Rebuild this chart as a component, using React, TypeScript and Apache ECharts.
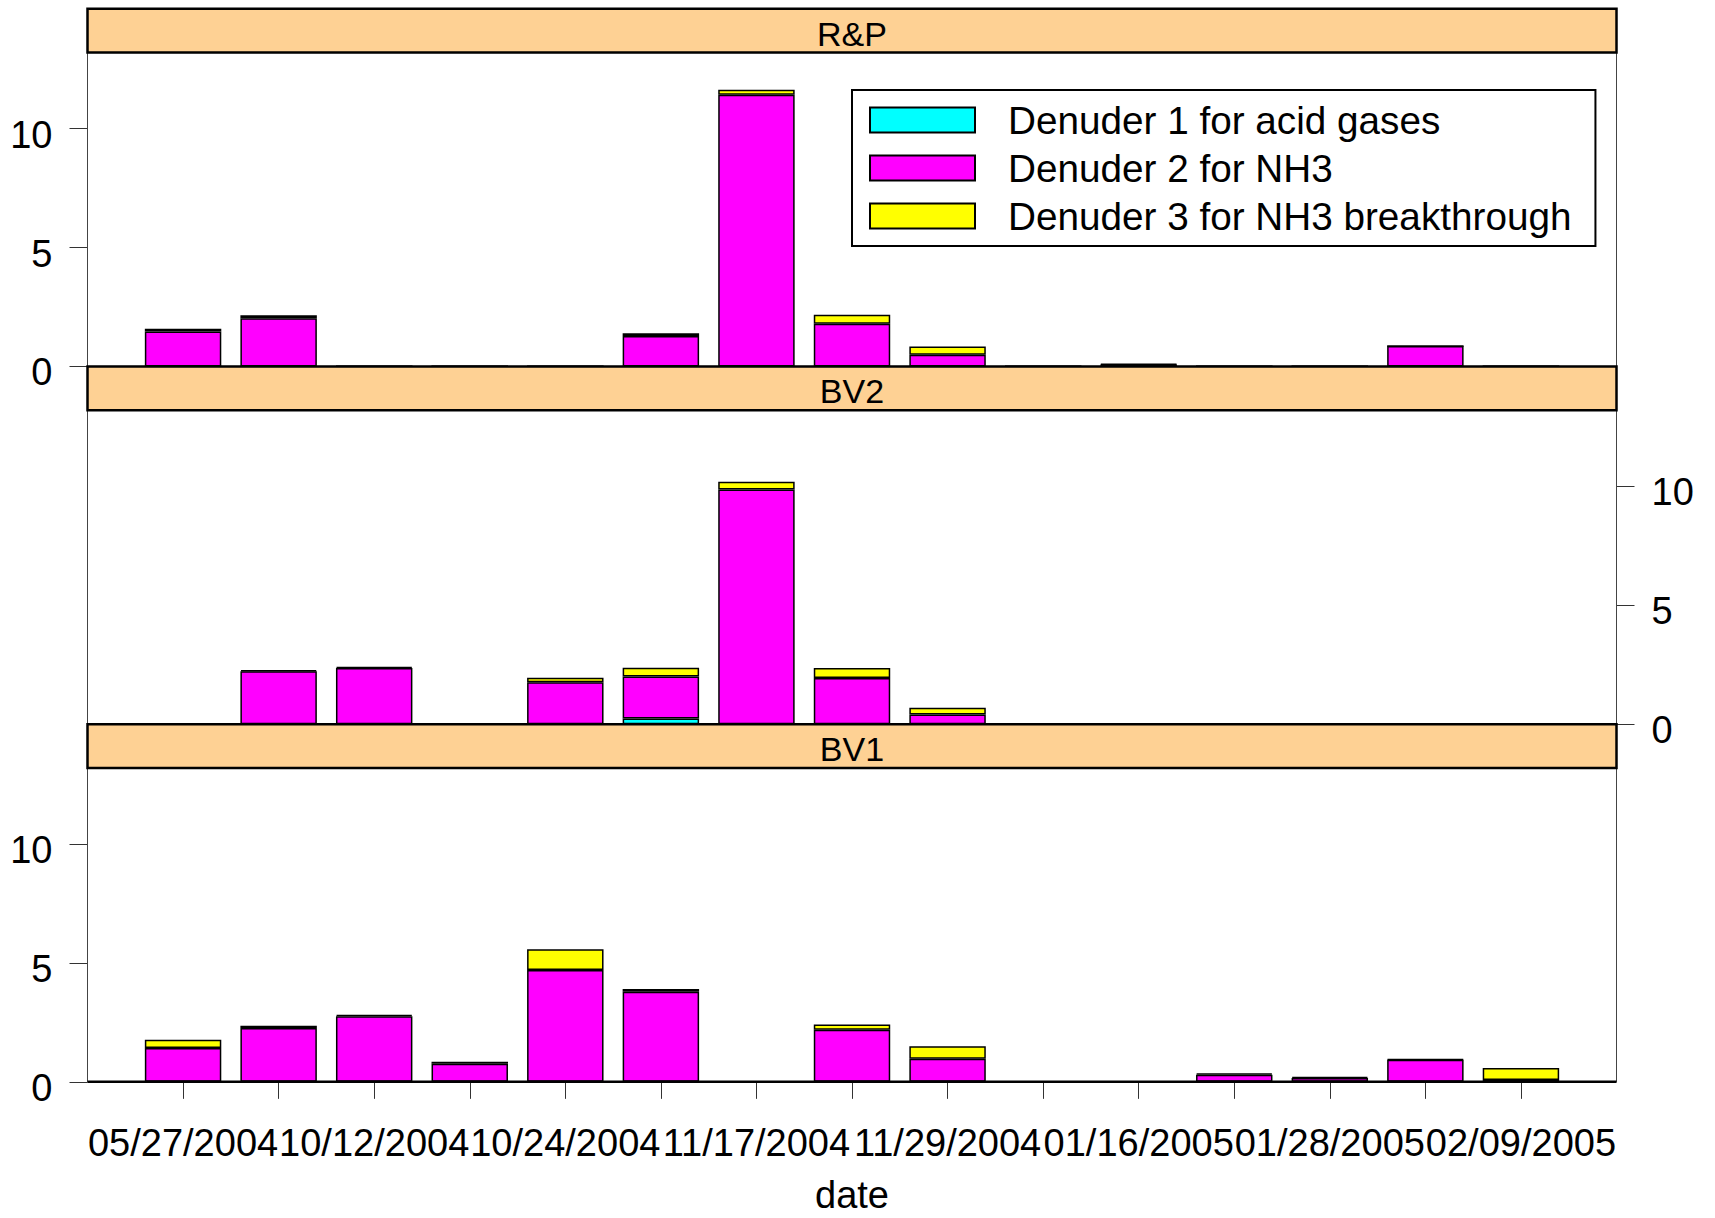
import React, { useEffect, useRef } from "react";
import * as echarts from "echarts";

// Sampling dates (only every other date is printed on the axis)
const dateLabels = [
  "05/27/2004", "", "10/12/2004", "", "10/24/2004", "", "11/17/2004", "",
  "11/29/2004", "", "01/16/2005", "", "01/28/2005", "", "02/09/2005",
];

const seriesNames = [
  "Denuder 1 for acid gases",
  "Denuder 2 for NH3",
  "Denuder 3 for NH3 breakthrough",
];
const seriesColors = ["#00FFFF", "#FF00FF", "#FFFF00"];

// Panels, top to bottom
const panelNames = ["R&P", "BV2", "BV1"];

// R&P site
const rpDenuder1 = [0, 0, 0, 0, 0, 0, 0, 0, 0, 0, 0, 0, 0, 0, 0];
const rpDenuder2 = [1.47, 2.03, 0, 0, 0, 1.28, 11.43, 1.8, 0.49, 0, 0.08, 0, 0, 0.86, 0];
const rpDenuder3 = [0.12, 0.12, 0, 0, 0, 0.12, 0.21, 0.37, 0.35, 0, 0.03, 0, 0, 0, 0];

// BV2 site
const bv2Denuder1 = [0, 0, 0, 0, 0, 0.24, 0, 0, 0, 0, 0, 0, 0, 0, 0];
const bv2Denuder2 = [0, 2.22, 2.36, 0, 1.76, 1.76, 9.87, 1.94, 0.41, 0, 0, 0, 0, 0, 0];
const bv2Denuder3 = [0, 0.05, 0.05, 0, 0.19, 0.37, 0.32, 0.42, 0.28, 0, 0, 0, 0, 0, 0];

// BV1 site
const bv1Denuder1 = [0, 0, 0, 0, 0, 0, 0, 0, 0, 0, 0, 0, 0, 0, 0];
const bv1Denuder2 = [1.42, 2.26, 2.76, 0.76, 4.7, 3.79, 0, 2.19, 0.97, 0, 0, 0.3, 0.16, 0.93, 0.08];
const bv1Denuder3 = [0.35, 0.1, 0.05, 0.09, 0.88, 0.11, 0, 0.22, 0.53, 0, 0, 0.05, 0.05, 0.03, 0.5];

const yTicks = [0, 5, 10];
const yMax = 13.2;

const FONT = "Liberation Sans, Arial, Helvetica, sans-serif";

export default function App() {
  const ref = useRef<HTMLDivElement>(null);

  useEffect(() => {
    if (!ref.current) return;
    const chart = echarts.init(ref.current, null, { renderer: "svg" });

    const panelData = [
      [rpDenuder1, rpDenuder2, rpDenuder3],
      [bv2Denuder1, bv2Denuder2, bv2Denuder3],
      [bv1Denuder1, bv1Denuder2, bv1Denuder3],
    ];

    // layout of the three stacked panels
    const panelLeft = 87.5;
    const panelWidth = 1529;
    const slot = panelWidth / (dateLabels.length + 1);
    const stripH = 43.8;
    const plotH = 313.9;
    const firstTop = 8.75;
    const stripTops = [0, 1, 2].map((i) => firstTop + i * (stripH + plotH));
    const plotTops = stripTops.map((t) => t + stripH);

    const grids = plotTops.map((t) => ({
      left: panelLeft + slot / 2,
      top: t,
      width: slot * dateLabels.length,
      height: plotH,
      containLabel: false,
      outerBoundsMode: "none",
    }));

    const xAxes = [0, 1, 2].map((i) => {
      const isBottom = i === 2;
      return {
        gridIndex: i,
        type: "category",
        data: dateLabels,
        boundaryGap: true,
        show: isBottom,
        axisLine: { show: false },
        axisTick: {
          show: isBottom,
          alignWithLabel: true,
          interval: 0,
          length: 17,
          lineStyle: { color: "#333", width: 1 },
        },
        axisLabel: {
          show: isBottom,
          interval: 1,
          margin: 42,
          fontSize: 38,
          fontFamily: FONT,
          color: "#000",
        },
        splitLine: { show: false },
        name: isBottom ? "date" : "",
        nameLocation: "middle",
        nameGap: 101,
        nameTextStyle: { fontSize: 38, lineHeight: 24, fontFamily: FONT, color: "#000" },
      };
    });

    const yAxes = [0, 1, 2].map((i) => ({
      gridIndex: i,
      type: "value",
      min: 0,
      max: yMax,
      position: i === 1 ? "right" : "left",
      offset: slot / 2,
      axisLine: { show: false },
      splitLine: { show: false },
      axisTick: {
        show: true,
        length: 18,
        customValues: yTicks,
        lineStyle: { color: "#333", width: 1 },
      },
      axisLabel: {
        customValues: yTicks,
        margin: 35,
        verticalAlign: "top",
        lineHeight: 12,
        fontSize: 38,
        fontFamily: FONT,
        color: "#000",
      },
    }));

    const series: any[] = [];
    panelData.forEach((layers, p) => {
      layers.forEach((values, k) => {
        series.push({
          type: "bar",
          name: seriesNames[k],
          xAxisIndex: p,
          yAxisIndex: p,
          stack: "panel" + p,
          data: values,
          barWidth: slot * 0.8,
          itemStyle: { color: seriesColors[k], borderColor: "#000", borderWidth: 1.5 },
          emphasis: { disabled: true },
        });
      });
    });

    const graphics: any[] = [];
    // panel frames (thin sides)
    plotTops.forEach((t) => {
      graphics.push({
        type: "rect",
        z: 50,
        shape: { x: panelLeft, y: t, width: panelWidth, height: plotH },
        style: { fill: "none", stroke: "#444", lineWidth: 1 },
      });
    });
    // bottom edge of the lowest panel
    graphics.push({
      type: "line",
      z: 60,
      shape: {
        x1: panelLeft,
        y1: plotTops[2] + plotH,
        x2: panelLeft + panelWidth,
        y2: plotTops[2] + plotH,
      },
      style: { stroke: "#000", lineWidth: 2.5 },
    });
    // strips with panel names
    stripTops.forEach((t, i) => {
      graphics.push({
        type: "rect",
        z: 70,
        shape: { x: panelLeft, y: t, width: panelWidth, height: stripH },
        style: { fill: "#FED194", stroke: "#000", lineWidth: 2.5 },
      });
      graphics.push({
        type: "text",
        z: 71,
        style: {
          text: panelNames[i],
          x: panelLeft + panelWidth / 2,
          y: t + stripH / 2 + 3,
          align: "center",
          verticalAlign: "middle",
          font: `34px ${FONT}`,
          fill: "#000",
        },
      });
    });

    chart.setOption({
      animation: false,
      backgroundColor: "#fff",
      grid: grids,
      xAxis: xAxes,
      yAxis: yAxes,
      series,
      legend: {
        data: seriesNames,
        left: 852,
        top: 90,
        orient: "vertical",
        icon: "rect",
        itemWidth: 105,
        itemHeight: 25,
        itemGap: 0,
        padding: [6, 24, 6, 17],
        borderColor: "#000",
        borderWidth: 2,
        borderRadius: 0,
        backgroundColor: "#fff",
        selectedMode: false,
        itemStyle: { borderColor: "#000", borderWidth: 2 },
        textStyle: {
          fontSize: 38.7,
          fontFamily: FONT,
          color: "#000",
          lineHeight: 48,
          padding: [0, 0, 0, 28],
        },
      },
      graphic: graphics,
    });

    return () => chart.dispose();
  }, []);

  return (
    <div
      ref={ref}
      style={{ position: "absolute", left: 0, top: 0, width: 1715, height: 1218 }}
    />
  );
}
